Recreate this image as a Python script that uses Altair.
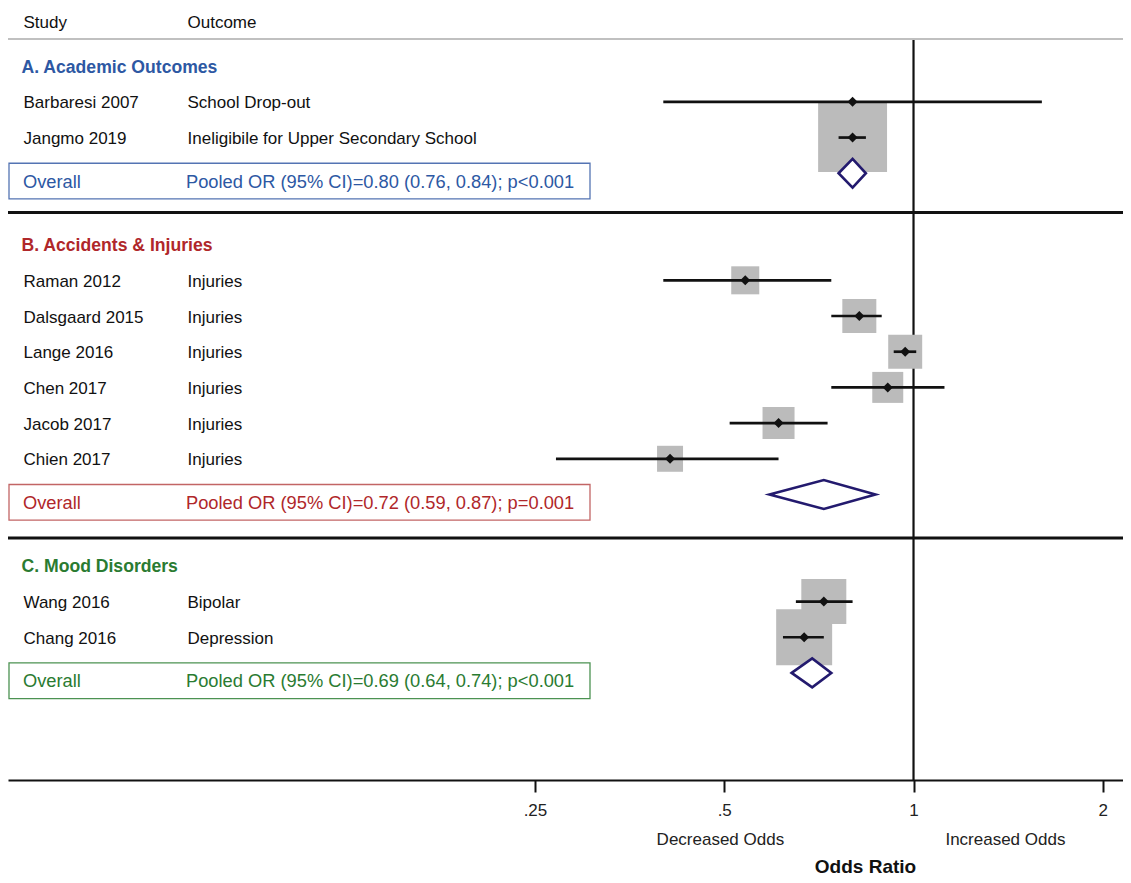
import altair as alt
import pandas as pd

# ---------------- data ----------------
sections = ["A. Academic Outcomes", "B. Accidents & Injuries", "C. Mood Disorders"]
section_colors = ["#2d58a3", "#b0272a", "#2a7b31"]
box_colors = ["#5474b3", "#c26565", "#4c9252"]

studies = ["Barbaresi 2007", "Jangmo 2019", "Raman 2012", "Dalsgaard 2015", "Lange 2016",
           "Chen 2017", "Jacob 2017", "Chien 2017", "Wang 2016", "Chang 2016"]
outcomes = ["School Drop-out", "Ineligibile for Upper Secondary School", "Injuries", "Injuries",
            "Injuries", "Injuries", "Injuries", "Injuries", "Bipolar", "Depression"]
study_section = [0, 0, 1, 1, 1, 1, 1, 1, 2, 2]
or_est = [0.80, 0.80, 0.54, 0.82, 0.97, 0.91, 0.61, 0.41, 0.72, 0.67]
ci_low = [0.40, 0.76, 0.40, 0.74, 0.93, 0.74, 0.51, 0.27, 0.65, 0.62]
ci_high = [1.60, 0.84, 0.74, 0.89, 1.01, 1.12, 0.73, 0.61, 0.80, 0.72]
weights = [0.5, 95.0, 15.7, 23.1, 23.1, 19.2, 20.5, 13.5, 40.5, 62.7]

pooled_or = [0.80, 0.72, 0.69]
pooled_low = [0.76, 0.59, 0.64]
pooled_high = [0.84, 0.87, 0.74]
pooled_text = ["Pooled OR (95% CI)=0.80 (0.76, 0.84); p<0.001",
               "Pooled OR (95% CI)=0.72 (0.59, 0.87); p=0.001",
               "Pooled OR (95% CI)=0.69 (0.64, 0.74); p<0.001"]

header_labels = ["Study", "Outcome"]
x_ticks = [0.25, 0.5, 1, 2]
x_tick_labels = [".25", ".5", "1", "2"]
direction_labels = ["Decreased Odds", "Increased Odds"]
direction_at = [0.493, 1.4]
null_value = 1
axis_title = "Odds Ratio"

# ---------------- layout (row positions) ----------------
W, H = 1115, 772
FONT = "Liberation Sans"
COL1, COL2 = 15.5, 179.5
TDY = 1.5
sep_offsets = [1.1, 1.22]

study_rows = []
title_rows, overall_rows, sep_rows = [], [], []
r = -1.0
for si in range(len(sections)):
    title_rows.append(r)
    idx = [i for i, s in enumerate(study_section) if s == si]
    for k, i in enumerate(idx):
        study_rows.append((i, r + 1 + k))
    ov = r + 1 + len(idx)
    overall_rows.append(ov)
    if si < len(sep_offsets):
        sep_rows.append(ov + sep_offsets[si])
    r = ov + 2
study_rows = [row for _, row in sorted(study_rows)]
header_row = -2.26
header_line_row = -1.76
y_bottom = 19.0

xscale = alt.Scale(type="log", base=2, domain=[0.0363, 2.1535], nice=False, zero=False)
yscale = alt.Scale(domain=[-2.63, y_bottom], reverse=True, nice=False, zero=False)
colscale = alt.Scale(domain=sections, range=section_colors)
boxscale = alt.Scale(domain=sections, range=box_colors)

label_expr = " : ".join(f"datum.value == {v} ? '{l}'" for v, l in zip(x_ticks, x_tick_labels)) + " : datum.label"
xaxis = alt.Axis(values=x_ticks, labelExpr=label_expr, grid=False,
                 domainColor="#111111", domainWidth=2, tickColor="#111111", tickWidth=2,
                 tickSize=12, labelPadding=10.5, labelFontSize=17, labelColor="#222222",
                 labelFont=FONT, titleFont=FONT, titleFontSize=19, titleFontWeight="bold",
                 titleColor="#111111", titleX=857, titleY=86, titleBaseline="middle",
                 titleAlign="center")

df = pd.DataFrame({
    "study": studies, "outcome": outcomes,
    "section": [sections[s] for s in study_section],
    "est": or_est, "lo": ci_low, "hi": ci_high, "w": weights, "y": study_rows,
})
dsec = pd.DataFrame({
    "section": sections, "y": title_rows, "yo": overall_rows,
    "yt": [v + 0.22 for v in overall_rows],
    "ytop": [v + 0.22 - 0.5 for v in overall_rows],
    "ybot": [v + 0.22 + 0.5 for v in overall_rows],
    "txt": pooled_text, "overall": ["Overall"] * 3,
})
dia_rows = []
h = 0.405
for s, est, lo, hi, yo in zip(sections, pooled_or, pooled_low, pooled_high, overall_rows):
    dia_rows += [{"section": s, "x": lo, "ya": yo, "yb": yo},
                 {"section": s, "x": est, "ya": yo - h, "yb": yo + h},
                 {"section": s, "x": hi, "ya": yo, "yb": yo}]
ddia = pd.DataFrame(dia_rows)


def Y(f):
    return alt.Y(f, scale=yscale, axis=None)


def X(f):
    return alt.X(f, scale=xscale, axis=xaxis, title=axis_title)


# reference line at OR = 1
ref = alt.Chart(pd.DataFrame({"x": [null_value], "y": [header_line_row], "y2": [y_bottom]})).mark_rule(
    color="#111111", strokeWidth=2.2).encode(x=X("x:Q"), y=Y("y:Q"), y2="y2:Q")

hline = alt.Chart(pd.DataFrame({"y": [header_line_row]})).mark_rule(
    color="#c0c0c0", strokeWidth=2).encode(x=alt.value(0), x2=alt.value(W), y=Y("y:Q"))
seps = alt.Chart(pd.DataFrame({"y": sep_rows})).mark_rule(
    color="#111111", strokeWidth=3).encode(x=alt.value(0), x2=alt.value(W), y=Y("y:Q"))

boxes = alt.Chart(dsec).mark_rect(filled=False, strokeWidth=1.3).encode(
    x=alt.value(1), x2=alt.value(582), y=Y("ytop:Q"), y2="ybot:Q",
    stroke=alt.Stroke("section:N", scale=boxscale, legend=None))

txt = dict(font=FONT, fontSize=17, align="left", baseline="middle", dy=TDY)
hdr1 = alt.Chart(pd.DataFrame({"t": [header_labels[0]], "y": [header_row]})).mark_text(
    color="#111111", **txt).encode(x=alt.value(COL1), y=Y("y:Q"), text="t:N")
hdr2 = alt.Chart(pd.DataFrame({"t": [header_labels[1]], "y": [header_row]})).mark_text(
    color="#111111", **txt).encode(x=alt.value(COL2), y=Y("y:Q"), text="t:N")

sec_titles = alt.Chart(dsec).mark_text(font=FONT, fontSize=17.6, fontWeight="bold",
                                       align="left", baseline="middle", dy=TDY).encode(
    x=alt.value(13.5), y=Y("y:Q"), text="section:N",
    color=alt.Color("section:N", scale=colscale, legend=None))

st1 = alt.Chart(df).mark_text(color="#111111", **txt).encode(
    x=alt.value(COL1), y=Y("y:Q"), text="study:N")
st2 = alt.Chart(df).mark_text(color="#111111", **txt).encode(
    x=alt.value(COL2), y=Y("y:Q"), text="outcome:N")

btxt = dict(font=FONT, fontSize=18.3, align="left", baseline="middle", dy=TDY)
ov1 = alt.Chart(dsec).mark_text(**btxt).encode(
    x=alt.value(COL1 - 0.5), y=Y("yt:Q"), text="overall:N",
    color=alt.Color("section:N", scale=colscale, legend=None))
ov2 = alt.Chart(dsec).mark_text(**btxt).encode(
    x=alt.value(COL2 - 1.5), y=Y("yt:Q"), text="txt:N",
    color=alt.Color("section:N", scale=colscale, legend=None))

squares = alt.Chart(df).mark_square(color="#bbbbbb", opacity=1).encode(
    x=X("est:Q"), y=Y("y:Q"),
    size=alt.Size("w:Q", scale=alt.Scale(type="linear", domain=[0, 100], range=[0, 5000]), legend=None))

ci = alt.Chart(df).mark_rule(color="#111111", strokeWidth=2.7).encode(
    x=X("lo:Q"), x2="hi:Q", y=Y("y:Q"))
pts = alt.Chart(df).mark_point(shape="diamond", filled=True, color="#111111", size=100, opacity=1).encode(
    x=X("est:Q"), y=Y("y:Q"))

diam = alt.Chart(ddia).mark_area(orient="vertical", fill="white", fillOpacity=1,
                                 stroke="#231a6e", strokeWidth=2.6, strokeJoin="miter").encode(
    x=X("x:Q"), y=Y("ya:Q"), y2="yb:Q", detail="section:N")

dirs = alt.Chart(pd.DataFrame({"x": direction_at, "t": direction_labels})).mark_text(
    font=FONT, fontSize=17, color="#222222", align="center", baseline="middle").encode(
    x=X("x:Q"), y=alt.value(H + 60), text="t:N")

chart = alt.layer(
    ref, hline, seps, boxes, hdr1, hdr2, sec_titles, st1, st2, ov1, ov2,
    squares, ci, pts, diam, dirs
).properties(
    width=W, height=H,
    autosize=alt.AutoSizeParams(type="none"),
    padding={"left": 0, "top": 0, "right": 0, "bottom": 95},
    background="white",
).configure_view(stroke=None)

chart.save("out.html", embed_options={"renderer": "svg", "actions": False})
